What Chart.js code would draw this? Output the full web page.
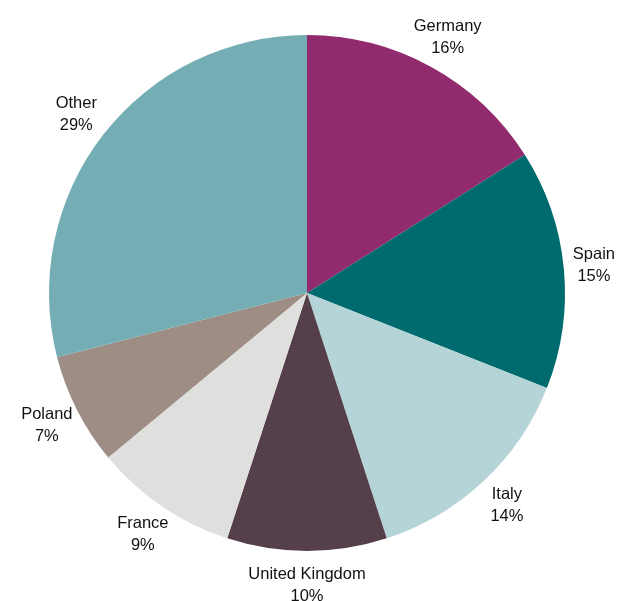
<!DOCTYPE html>
<html>
<head>
<meta charset="utf-8">
<script src="https://cdn.jsdelivr.net/npm/chart.js@4/dist/chart.umd.min.js"></script>
<style>
  html, body { margin: 0; padding: 0; background: #fff; }
  #wrap { width: 619px; height: 601px; }
</style>
</head>
<body>
<div id="wrap"><canvas id="pie"></canvas></div>
<script>
const countries = ['Germany', 'Spain', 'Italy', 'United Kingdom', 'France', 'Poland', 'Other'];
const shares = [16, 15, 14, 10, 9, 7, 29];
const sliceColors = ['#922B6E', '#006B6F', '#B5D4D7', '#553F4B', '#DFE0DE', '#9D8D84', '#74AEB4'];

// labels sit outside each slice, centred on the slice's mid angle
const outsideLabels = {
  id: 'outsideLabels',
  afterDatasetsDraw(chart) {
    const ctx = chart.ctx;
    const meta = chart.getDatasetMeta(0);
    ctx.save();
    ctx.font = '16.5px "Liberation Sans", Arial, sans-serif';
    ctx.fillStyle = '#111';
    ctx.textAlign = 'center';
    ctx.textBaseline = 'middle';
    meta.data.forEach((arc, i) => {
      const p = arc.getProps(['x', 'y', 'startAngle', 'endAngle', 'outerRadius'], true);
      const mid = (p.startAngle + p.endAngle) / 2;
      const r = p.outerRadius + 34;
      let x = p.x + Math.cos(mid) * r;
      const y = p.y + Math.sin(mid) * r;
      // keep the wider line inside the canvas
      const half = Math.max(ctx.measureText(countries[i]).width, ctx.measureText(shares[i] + '%').width) / 2;
      x = Math.min(Math.max(x, half + 4), chart.width - half - 4);
      ctx.fillText(countries[i], x, y - 11);
      ctx.fillText(shares[i] + '%', x, y + 11);
    });
    ctx.restore();
  }
};

new Chart(document.getElementById('pie'), {
  type: 'pie',
  data: {
    labels: countries,
    datasets: [{
      data: shares,
      backgroundColor: sliceColors,
      borderWidth: 0
    }]
  },
  options: {
    responsive: true,
    maintainAspectRatio: false,
    animation: false,
    layout: { padding: { top: 35, bottom: 50, left: 40, right: 45 } },
    plugins: {
      legend: { display: false },
      tooltip: { enabled: false }
    }
  },
  plugins: [outsideLabels]
});
</script>
</body>
</html>
